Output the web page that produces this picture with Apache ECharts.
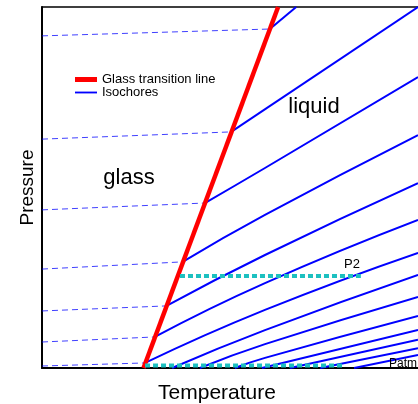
<!DOCTYPE html>
<html><head><meta charset="utf-8">
<script src="https://cdn.jsdelivr.net/npm/echarts@6/dist/echarts.min.js"></script>
<style>html,body{margin:0;padding:0;background:#fff}#c{width:418px;height:404px}</style>
</head><body><div id="c"></div>
<script>
// Temperature / pressure in arbitrary units (0-100)
const glassTransition = [[27.0, 0], [62.8, 100]];
const glassIsochores = [
  [[0, 92.0], [60.6, 93.9]],
  [[0, 63.4], [50.3, 65.4]],
  [[0, 43.8], [43.3, 45.7]],
  [[0, 27.4], [37.4, 29.4]],
  [[0, 15.8], [33.1, 17.2]],
  [[0, 7.2], [30.0, 8.6]],
  [[0, 0.55], [27.4, 1.4]]
];
const liquidIsochores = [
  [[60.6, 93.9], [67.6, 100]],
  [[50.3, 65.4], [100, 100]],
  [[43.3, 45.7], [59.3, 55.4], [100, 80.6]],
  [[37.4, 29.4], [59.3, 42.4], [100, 64.5]],
  [[33.1, 17.2], [59.3, 31.3], [100, 51.2]],
  [[30.0, 8.6], [59.3, 23.5], [100, 41.0]],
  [[27.4, 1.4], [59.3, 16.1], [100, 31.9]],
  [[34.6, 0], [59.3, 10.5], [100, 25.8]],
  [[42.0, 0], [59.3, 6.6], [100, 19.7]],
  [[51.3, 0], [59.3, 2.8], [100, 14.4]],
  [[58.5, 0], [100, 10.5]],
  [[66.0, 0], [100, 7.8]],
  [[74.0, 0], [100, 5.5]],
  [[83.0, 0], [100, 3.6]]
];
const pathP2 = [[36.7, 25.5], [84.8, 25.5]];
const pathPatm = [[27.4, 0.7], [80.6, 0.7]];
const regionLabels = ['glass', 'liquid'];
const pressureLabels = ['P2', 'Patm'];

const FONT = '"Liberation Sans", Arial, sans-serif';
const BLUE = '#0000ff';
const CYAN = '#1cc0c0';

const series = [];
liquidIsochores.forEach(d => series.push({
  name: 'Isochores', type: 'line', data: d, symbol: 'none', silent: true, z: 2, smooth: true,
  lineStyle: { color: BLUE, width: 2 }, itemStyle: { color: BLUE }
}));
glassIsochores.forEach(d => series.push({
  name: 'Isochores', type: 'line', data: d, symbol: 'none', silent: true, z: 2,
  lineStyle: { color: BLUE, width: 1, type: [6, 4], opacity: 0.75 }, itemStyle: { color: BLUE }
}));
series.push({
  name: 'Glass transition line', type: 'line', data: glassTransition, symbol: 'none', silent: true, z: 3,
  lineStyle: { color: '#ff0000', width: 4.5 }, itemStyle: { color: '#ff0000' }
});
[pathP2, pathPatm].forEach(d => series.push({
  name: 'path', type: 'line', data: d, symbol: 'none', silent: true, z: 4,
  lineStyle: { color: CYAN, width: 4, type: [5, 3] }
}));

const chart = echarts.init(document.getElementById('c'), null, { renderer: 'canvas' });
chart.setOption({
  animation: false,
  backgroundColor: '#fff',
  grid: { left: 42, right: 0, top: 7, bottom: 36, containLabel: false, outerBoundsMode: 'none' },
  xAxis: [{
    type: 'value', min: 0, max: 100, position: 'bottom',
    name: 'Temperature', nameLocation: 'middle', nameGap: 15,
    nameTextStyle: { fontFamily: FONT, fontSize: 21, color: '#000', padding: [0, 26, 0, 0] },
    axisLine: { lineStyle: { color: '#000', width: 2 } },
    axisTick: { show: false }, axisLabel: { show: false }, splitLine: { show: false }
  }, {
    type: 'value', min: 0, max: 100, position: 'top',
    axisLine: { lineStyle: { color: '#000', width: 1.5 } },
    axisTick: { show: false }, axisLabel: { show: false }, splitLine: { show: false }
  }],
  yAxis: {
    type: 'value', min: 0, max: 100,
    name: 'Pressure', nameLocation: 'middle', nameGap: 5,
    nameTextStyle: { fontFamily: FONT, fontSize: 19, color: '#000' },
    axisLine: { lineStyle: { color: '#000', width: 2 } },
    axisTick: { show: false }, axisLabel: { show: false }, splitLine: { show: false }
  },
  legend: {
    orient: 'vertical', left: 75, top: 73, itemGap: 0, itemWidth: 22, itemHeight: 5,
    padding: 0, selectedMode: false,
    textStyle: { fontFamily: FONT, fontSize: 13, color: '#000' },
    itemStyle: { borderWidth: 0 },
    data: [
      { name: 'Glass transition line', icon: 'rect' },
      { name: 'Isochores', icon: 'path://M0,0H60V5H0Z' }
    ]
  },
  graphic: [
    { type: 'text', z: 100, x: 129, y: 178, style: { text: regionLabels[0], font: '22px ' + FONT, fill: '#000', align: 'center', verticalAlign: 'middle' } },
    { type: 'text', z: 100, x: 314, y: 107, style: { text: regionLabels[1], font: '22px ' + FONT, fill: '#000', align: 'center', verticalAlign: 'middle' } },
    { type: 'text', z: 100, x: 352, y: 264, style: { text: pressureLabels[0], font: '13px ' + FONT, fill: '#000', align: 'center', verticalAlign: 'middle' } },
    { type: 'text', z: 100, x: 389, y: 364, style: { text: pressureLabels[1], font: '12px ' + FONT, fill: '#000', align: 'left', verticalAlign: 'middle' } }
  ],
  series: series
});
</script>
</body></html>
